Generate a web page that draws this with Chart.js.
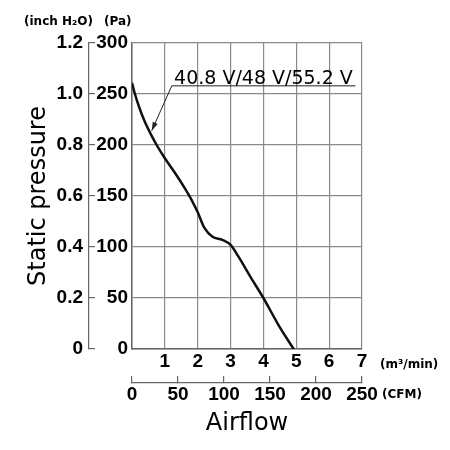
<!DOCTYPE html>
<html>
<head>
<meta charset="utf-8">
<script src="https://cdn.jsdelivr.net/npm/chart.js@4.4.1/dist/chart.umd.min.js"></script>
<style>
  html, body { margin: 0; padding: 0; background: #fff; }
  #wrap { width: 450px; height: 450px; position: relative; }
</style>
</head>
<body>
<div id="wrap"><canvas id="pqChart"></canvas></div>
<script>
// P-Q curve
const airflow = [0, 0.08, 0.23, 0.4, 0.6, 0.75, 1.0, 1.3, 1.6, 1.8, 2.0, 2.2, 2.45, 2.75, 3.0, 3.25, 3.6, 4.0, 4.45, 4.92]; // m3/min
const pressure = [261, 251, 236, 222, 209, 200, 187, 173, 158, 147, 134, 119, 110, 107, 102, 90, 71, 50, 24, 0];         // Pa

const flowTicks = [0, 1, 2, 3, 4, 5, 6, 7];          // m3/min
const cfmTicks = [0, 50, 100, 150, 200, 250];        // CFM
const paTicks = [0, 50, 100, 150, 200, 250, 300];    // Pa
const inchTicks = [0, 0.2, 0.4, 0.6, 0.8, 1.0, 1.2]; // inch H2O

const curveLabel = '40.8 V/48 V/55.2 V';

const tickFont = { family: '"Liberation Sans", Arial, sans-serif', size: 19, weight: 'bold' };
const titleFont = { family: '"DejaVu Sans", sans-serif', size: 24 };
const gridColor = '#8a8a8a';
const axisColor = '#666';

// annotation: text, leader line and arrow (in data units)
const annotation = {
  text: { x: 4.0, y: 268 },
  lineStart: { x: 6.8, y: 258 },
  elbow: { x: 1.21, y: 258 },
  tip: { x: 0.6, y: 214 }
};

const setTicks = (values) => (scale) => {
  scale.ticks = values.map(v => ({ value: v }));
};

const extras = {
  id: 'extras',
  afterDraw(chart) {
    const { ctx, scales } = chart;
    const x = scales.x, y = scales.y;
    ctx.save();

    // curve label + leader
    ctx.fillStyle = '#000';
    ctx.font = '19px "DejaVu Sans", sans-serif';
    ctx.textAlign = 'center';
    ctx.textBaseline = 'alphabetic';
    ctx.fillText(curveLabel, x.getPixelForValue(annotation.text.x), y.getPixelForValue(annotation.text.y) + 8);

    const sx = x.getPixelForValue(annotation.lineStart.x), sy = y.getPixelForValue(annotation.lineStart.y);
    const ex = x.getPixelForValue(annotation.elbow.x), ey = y.getPixelForValue(annotation.elbow.y);
    const tx = x.getPixelForValue(annotation.tip.x), ty = y.getPixelForValue(annotation.tip.y);
    ctx.strokeStyle = '#222';
    ctx.lineWidth = 1;
    ctx.beginPath();
    ctx.moveTo(sx, sy);
    ctx.lineTo(ex, ey);
    ctx.lineTo(tx, ty);
    ctx.stroke();
    // arrow head
    const ang = Math.atan2(ty - ey, tx - ex);
    const len = 9, half = 0.3;
    ctx.beginPath();
    ctx.moveTo(tx, ty);
    ctx.lineTo(tx - len * Math.cos(ang - half), ty - len * Math.sin(ang - half));
    ctx.lineTo(tx - len * Math.cos(ang + half), ty - len * Math.sin(ang + half));
    ctx.closePath();
    ctx.fillStyle = '#222';
    ctx.fill();

    // unit captions
    ctx.fillStyle = '#000';
    ctx.font = 'bold 12px "DejaVu Sans", sans-serif';
    ctx.textBaseline = 'middle';
    ctx.textAlign = 'left';
    ctx.fillText('(inch H\u2082O)', 24, 22);
    ctx.fillText('(Pa)', 104, 22);
    ctx.fillText('(m\u00B3/min)', x.right + 18, 365);
    ctx.fillText('(CFM)', x.right + 20, 395);
    ctx.restore();
  }
};

new Chart(document.getElementById('pqChart'), {
  type: 'scatter',
  data: {
    datasets: [{
      label: curveLabel,
      data: airflow.map((v, i) => ({ x: v, y: pressure[i] })),
      showLine: true,
      borderColor: '#111',
      borderWidth: 2.5,
      pointRadius: 0,
      cubicInterpolationMode: 'monotone'
    }]
  },
  options: {
    responsive: true,
    maintainAspectRatio: false,
    animation: false,
    layout: { padding: { top: 43, left: 0, right: 88, bottom: 7 } },
    plugins: {
      legend: { display: false },
      tooltip: { enabled: false }
    },
    scales: {
      y: {
        position: 'left',
        min: 0,
        max: 300,
        afterBuildTicks: setTicks(paTicks),
        afterFit: s => { s.width = 43; },
        grid: { color: gridColor, lineWidth: 1.2, drawTicks: false },
        border: { color: axisColor, width: 1.5 },
        ticks: { color: '#000', font: tickFont, padding: 4 }
      },
      yInch: {
        position: 'left',
        min: 0,
        max: 1.2,
        afterBuildTicks: setTicks(inchTicks),
        afterFit: s => { s.width = 89; },
        grid: { drawOnChartArea: false, color: axisColor, tickLength: -6, lineWidth: 1.2 },
        border: { color: axisColor, width: 1.2 },
        ticks: {
          color: '#000', font: tickFont, padding: 12,
          callback: v => (v === 0 ? '0' : v.toFixed(1))
        },
        title: { display: true, text: 'Static pressure', color: '#000', font: titleFont, padding: { top: 24, bottom: 0 } }
      },
      x: {
        type: 'linear',
        position: 'bottom',
        min: 0,
        max: 7,
        afterBuildTicks: setTicks(flowTicks),
        afterFit: s => { s.height = 34; },
        grid: { color: gridColor, lineWidth: 1.2, drawTicks: false },
        border: { color: axisColor, width: 1.5 },
        ticks: { color: '#000', font: tickFont, padding: 1, callback: v => (v === 0 ? '' : String(v)) }
      },
      xCfm: {
        type: 'linear',
        position: 'bottom',
        min: 0,
        max: 250,
        afterBuildTicks: setTicks(cfmTicks),
        afterFit: s => { s.height = 60; },
        grid: { drawOnChartArea: false, color: axisColor, tickLength: -7, lineWidth: 1.2 },
        border: { color: axisColor, width: 1.2 },
        ticks: { color: '#000', font: tickFont, padding: 7 },
        title: { display: true, text: 'Airflow', color: '#000', font: titleFont, padding: { top: 0, bottom: 5 } }
      }
    }
  },
  plugins: [extras]
});
</script>
</body>
</html>
